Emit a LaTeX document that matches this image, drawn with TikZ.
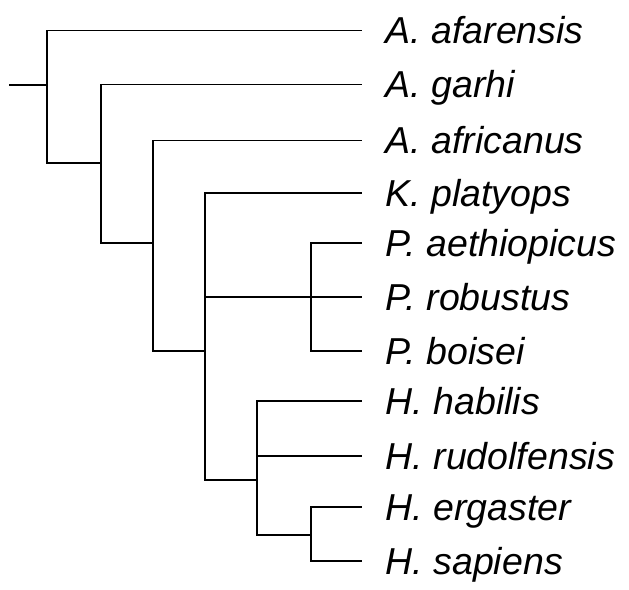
\documentclass[tikz,border=0pt]{standalone}
\usepackage{fontspec}
\setmainfont{Liberation Sans}
\begin{document}
\begin{tikzpicture}[x=1pt,y=-1pt,line width=1.3pt,
  taxon/.style={anchor=west,inner sep=0pt,text height=26.5pt,text depth=0pt,
    font=\itshape\fontsize{37.5}{40}\selectfont},
  branch/.style={shorten >=23pt}]
\useasboundingbox (0,0) rectangle (629,589);
% taxa
\node[taxon] (afar) at (385,30.5) {A. afarensis};
\node[taxon] (garhi) at (385,84.5) {A. garhi};
\node[taxon] (afric) at (385,140.5) {A. africanus};
\node[taxon] (platy) at (385,193) {K. platyops};
\node[taxon] (aethi) at (385,243) {P. aethiopicus};
\node[taxon] (robus) at (385,297) {P. robustus};
\node[taxon] (boise) at (385,351) {P. boisei};
\node[taxon] (habil) at (385,401) {H. habilis};
\node[taxon] (rudol) at (385,456) {H. rudolfensis};
\node[taxon] (ergas) at (385,507) {H. ergaster};
\node[taxon] (sapie) at (385,561) {H. sapiens};
% forks
\coordinate (base) at (9,85);
\coordinate (n1) at (47,85);
\coordinate (n2) at (101,163);
\coordinate (n3) at (153,243);
\coordinate (n4) at (205,351);
\coordinate (nP) at (311,297);
\coordinate (nH) at (257,480);
\coordinate (nHS) at (311,535);
\draw (base) -- (n1);
\draw[branch] (n1) |- (afar.west);
\draw (n1) |- (n2);
\draw[branch] (n2) |- (garhi.west);
\draw (n2) |- (n3);
\draw[branch] (n3) |- (afric.west);
\draw (n3) |- (n4);
\draw[branch] (n4) |- (platy.west);
\draw (n4) |- (nP);
\draw (n4) |- (nH);
\draw[branch] (nP) |- (aethi.west);
\draw[branch] (nP) -- (robus.west);
\draw[branch] (nP) |- (boise.west);
\draw[branch] (nH) |- (habil.west);
\draw[branch] (nH) |- (rudol.west);
\draw (nH) |- (nHS);
\draw[branch] (nHS) |- (ergas.west);
\draw[branch] (nHS) |- (sapie.west);
\end{tikzpicture}
\end{document}
